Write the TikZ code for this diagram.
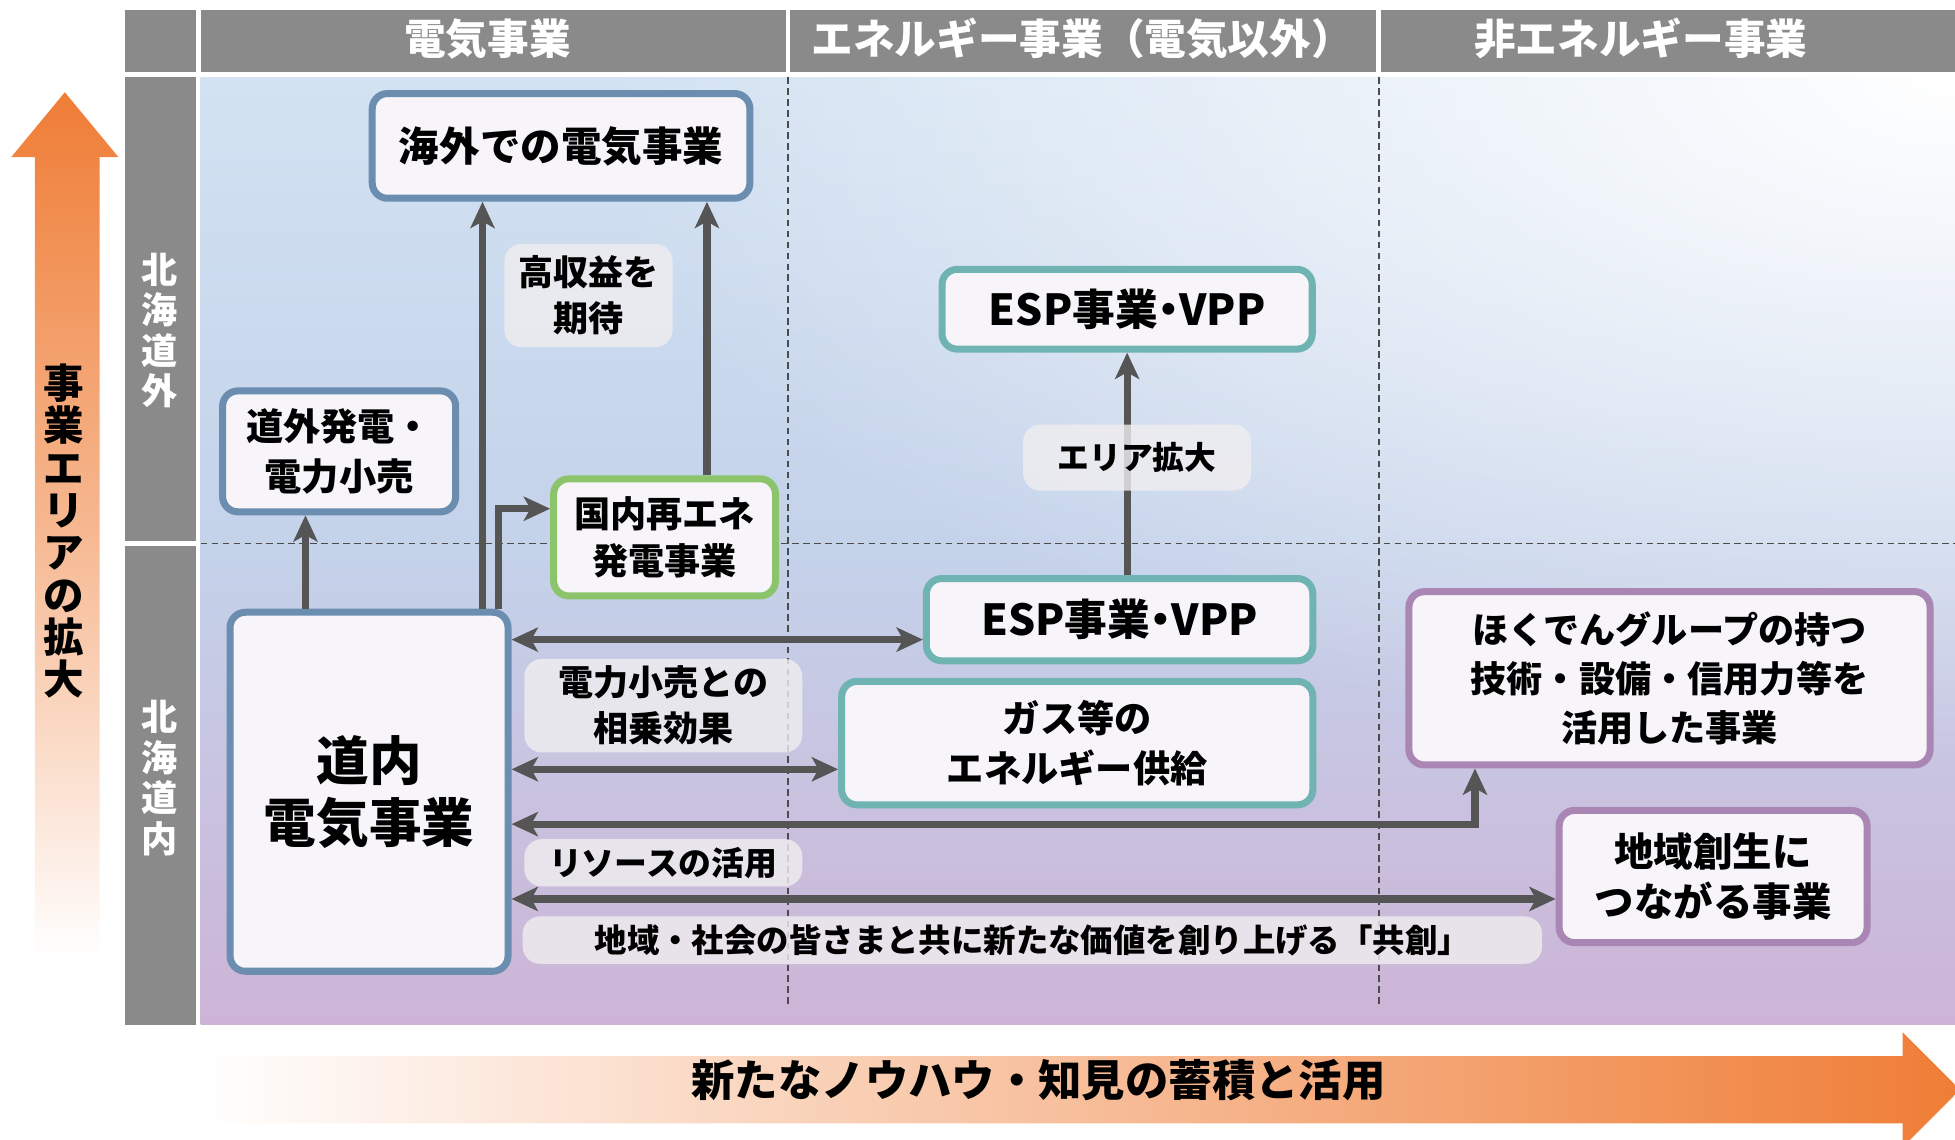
\documentclass[tikz,border=0pt]{standalone}
\usepackage{fontspec}
\setmainfont{Noto Sans CJK JP}
\newfontfamily\paltfont{Noto Sans CJK JP}[RawFeature=+palt]
\newcommand\narrowdot{{\paltfont ・}}
\usetikzlibrary{arrows.meta,fadings}

\definecolor{hdrgray}{HTML}{8A8A8A}
\definecolor{boxfill}{HTML}{F7F5F9}
\definecolor{hkblue}{HTML}{6A8DB0}
\definecolor{hkgreen}{HTML}{8CC46C}
\definecolor{hkteal}{HTML}{70B3B3}
\definecolor{hkpurple}{HTML}{A986B4}
\definecolor{arrgray}{HTML}{555555}
\definecolor{hkorange}{HTML}{EF7D36}
\definecolor{bgtop}{HTML}{D2E2F2}
\definecolor{bgmid}{HTML}{C4D2EA}
\definecolor{bgbot}{HTML}{CDB4D6}
\definecolor{labelgray}{HTML}{F0EEF0}

\tikzfading[name=glowfade, inner color=transparent!0, outer color=transparent!100]

\tikzset{
  hdr/.style={font=\bfseries\fontsize{19}{22}\selectfont, text=white},
  sidelbl/.style={font=\bfseries\fontsize{16.5}{18.5}\selectfont, text=white, align=center},
  bizbox/.style={draw=#1, fill=boxfill, line width=3.2pt, rounded corners=7pt, align=center, inner sep=0pt},
  softlabel/.style={fill=labelgray, fill opacity=0.8, text opacity=1, rounded corners=8pt, align=center, inner sep=0pt},
  arr/.style={arrgray, line width=3.3pt, -{Stealth[length=12pt,width=11pt,inset=3pt]}},
  darr/.style={arrgray, line width=3.3pt, {Stealth[length=12pt,width=11pt,inset=3pt]}-{Stealth[length=12pt,width=11pt,inset=3pt]}},
  gridline/.style={gray!60!black, line width=0.5pt, dash pattern=on 3pt off 2pt}
}

\begin{document}
\begin{tikzpicture}[x=0.02cm, y=-0.02cm]
	\useasboundingbox (0,0) rectangle (1568,914);

	\shade[top color=bgtop, bottom color=bgbot, middle color=bgmid] (161,62) rectangle (1568,822);
	\begin{scope}
		\clip (161,62) rectangle (1568,822);
		\fill[white, path fading=glowfade, fit fading=true] (1568,62) ellipse [x radius=22cm, y radius=11cm];
	\end{scope}

	\draw[gridline] (632,62) -- (632,808);
	\draw[gridline] (1106,62) -- (1106,808);
	\draw[gridline] (161,436) -- (1568,436);

	\shade[top color=hkorange, bottom color=white, middle color=hkorange!55!white] (28,770) -- (28,126) -- (9,126) -- (52,74) -- (95,126) -- (80,126) -- (80,770) -- cycle;
	\node[align=center, font=\bfseries\fontsize{18.5}{19.3}\selectfont] (areaaxis) at (51,426) {事\\業\\エ\\リ\\ア\\の\\拡\\大};
	\shade[left color=white, right color=hkorange] (161,847) -- (1526,847) -- (1526,828) -- (1572,874) -- (1526,920) -- (1526,901) -- (161,901) -- cycle;
	\node[font=\bfseries\fontsize{19.8}{24}\selectfont] (knowhow) at (833,866) {新たなノウハウ・知見の蓄積と活用};

	\fill[hdrgray] (100,8) rectangle (157,58);
	\fill[hdrgray] (161,8) rectangle (630,58);
	\fill[hdrgray] (634,8) rectangle (1104,58);
	\fill[hdrgray] (1108,8) rectangle (1568,58);
	\node[hdr] (colelec) at (391,31) {電気事業};
	\node[hdr] (colenergy) at (868,31) {エネルギー事業（電気以外）};
	\node[hdr] (colother) at (1316,31) {非エネルギー事業};
	\fill[hdrgray] (100,62) rectangle (157,434);
	\fill[hdrgray] (100,438) rectangle (157,822);
	\node[sidelbl] (rowout) at (128,265) {北\\海\\道\\外};
	\node[sidelbl] (rowin) at (128,624) {北\\海\\道\\内};

	\node[bizbox=hkblue, minimum width=6.06cm, minimum height=1.68cm, font=\bfseries\fontsize{18.5}{22}\selectfont] (kaigai) at (450,117) {海外での電気事業};
	\node[bizbox=hkblue, minimum width=3.74cm, minimum height=1.94cm, font=\bfseries\fontsize{17}{22.5}\selectfont] (dougai) at (272,362) {道外発電・\\電力小売};
	\node[bizbox=hkgreen, minimum width=3.56cm, minimum height=1.88cm, font=\bfseries\fontsize{16.5}{21.5}\selectfont] (saiene) at (533,431) {国内再エネ\\発電事業};
	\node[bizbox=hkblue, minimum width=4.46cm, minimum height=5.76cm, font=\bfseries\fontsize{24}{28.5}\selectfont] (dounai) at (296,635) {道内\\電気事業};
	\node[bizbox=hkteal, minimum width=5.94cm, minimum height=1.28cm, font=\bfseries\fontsize{19.5}{22}\selectfont] (espout) at (904,248) {ESP事業\narrowdot VPP};
	\node[bizbox=hkteal, minimum width=6.20cm, minimum height=1.32cm, font=\bfseries\fontsize{19.5}{22}\selectfont] (espin) at (898,497) {ESP事業\narrowdot VPP};
	\node[bizbox=hkteal, minimum width=7.56cm, minimum height=1.98cm, font=\bfseries\fontsize{17}{22.5}\selectfont] (gas) at (864,596) {ガス等の\\エネルギー供給};
	\node[bizbox=hkpurple, minimum width=8.36cm, minimum height=2.78cm, font=\bfseries\fontsize{16.5}{22.5}\selectfont] (hokuden) at (1339,544) {ほくでんグループの持つ\\技術・設備・信用力等を\\活用した事業};
	\node[bizbox=hkpurple, minimum width=4.94cm, minimum height=2.12cm, font=\bfseries\fontsize{18}{22.5}\selectfont] (chiiki) at (1374,703) {地域創生に\\つながる事業};

	\coordinate (xa) at (245,0);
	\coordinate (xb) at (387,0);
	\coordinate (xc) at (567,0);
	\coordinate (xd) at (400,408);
	\coordinate (ya) at (0,513);
	\coordinate (yb) at (0,617);
	\coordinate (yc) at (1183,661);
	\coordinate (yd) at (0,721);

	\draw[arr] (dounai.north -| xa) -- (dougai.south -| xa);
	\draw[arr] (dounai.north -| xb) -- (kaigai.south -| xb);
	\draw[arr] (saiene.north -| xc) -- (kaigai.south -| xc);
	\draw[arr] (dounai.north -| xd) -- (xd) -- (saiene.west |- xd);
	\draw[arr] (espin.north -| espout.south) -- (espout.south);
	\draw[darr] (dounai.east |- ya) -- (espin.west |- ya);
	\draw[darr] (dounai.east |- yb) -- (gas.west |- yb);
	\draw[darr] (dounai.east |- yc) -- (yc) -- (hokuden.south -| yc);
	\draw[darr] (dounai.east |- yd) -- (chiiki.west |- yd);

	\node[softlabel, minimum width=2.7cm, minimum height=1.66cm, font=\bfseries\fontsize{16}{21}\selectfont] (profit) at (472,237) {高収益を\\期待};
	\node[softlabel, minimum width=3.66cm, minimum height=1.06cm, font=\bfseries\fontsize{14.5}{17}\selectfont] (areawide) at (912,367) {エリア拡大};
	\node[softlabel, minimum width=4.46cm, minimum height=1.5cm, font=\bfseries\fontsize{16}{21}\selectfont] (synergy) at (532,566) {電力小売との\\相乗効果};
	\node[softlabel, minimum width=4.46cm, minimum height=0.76cm, font=\bfseries\fontsize{15}{17}\selectfont] (resource) at (532,692) {リソースの活用};
	\node[softlabel, minimum width=16.36cm, minimum height=0.76cm, font=\bfseries\fontsize{14.8}{17}\selectfont] (kyoso) at (828,754) {地域・社会の皆さまと共に新たな価値を創り上げる「共創」};
\end{tikzpicture}
\end{document}
